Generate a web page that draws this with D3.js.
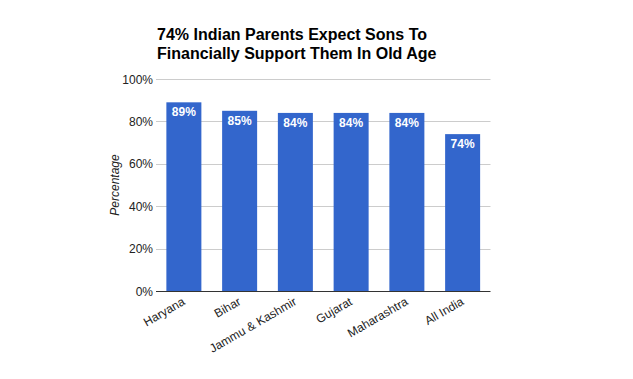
<!DOCTYPE html>
<html><head><meta charset="utf-8">
<script src="https://cdn.jsdelivr.net/npm/d3@7"></script>
<style>body{margin:0;background:#fff}</style>
</head><body>
<svg id="c" width="633" height="379"></svg>
<script>
const categories = ["Haryana","Bihar","Jammu & Kashmir","Gujarat","Maharashtra","All India"];
const values = [89,85,84,84,84,74];
const yTicks = [0,20,40,60,80,100];
const titleLines = ["74% Indian Parents Expect Sons To","Financially Support Them In Old Age"];

(function(){
const svg = d3.select("#c");
const pLeft = 156, pRight = 490.5, pTop = 79, pBottom = 291;
const x = d3.scaleBand().domain(categories).range([pLeft,pRight]).paddingInner(0.372).paddingOuter(0.186);
const y = d3.scaleLinear().domain([0,100]).range([pBottom,pTop]);
const font = "Liberation Sans, Arial, sans-serif";

svg.append("g").selectAll("line").data(yTicks.filter(d=>d>0)).join("line")
  .attr("x1",pLeft).attr("x2",pRight).attr("y1",d=>Math.round(y(d))+0.5).attr("y2",d=>Math.round(y(d))+0.5)
  .attr("stroke","#cccccc").attr("stroke-width",1);

svg.append("g").selectAll("text").data(yTicks).join("text")
  .attr("x",pLeft-3).attr("y",d=>y(d)+4.5).attr("text-anchor","end")
  .attr("font-family",font).attr("font-size",12).attr("fill","#222")
  .text(d=>d+"%");

svg.append("g").selectAll("rect").data(values).join("rect")
  .attr("x",(d,i)=>x(categories[i])).attr("width",x.bandwidth())
  .attr("y",d=>y(d)).attr("height",d=>pBottom-y(d)).attr("fill","#3366cc");

svg.append("g").selectAll("text").data(values).join("text")
  .attr("x",(d,i)=>x(categories[i])+x.bandwidth()/2).attr("y",d=>y(d)+14)
  .attr("text-anchor","middle").attr("font-family",font).attr("font-size",12)
  .attr("font-weight","bold").attr("fill","#fff").text(d=>d+"%");

svg.append("line").attr("x1",pLeft).attr("x2",pRight).attr("y1",pBottom+0.5).attr("y2",pBottom+0.5)
  .attr("stroke","#333").attr("stroke-width",1);

svg.append("g").selectAll("text").data(categories).join("text")
  .attr("transform",d=>`translate(${x(d)+x.bandwidth()/2+2},${pBottom+13}) rotate(-30)`)
  .attr("text-anchor","end").attr("font-family",font).attr("font-size",12).attr("fill","#222")
  .text(d=>d);

svg.append("text").attr("transform",`translate(119,${(pTop+pBottom)/2}) rotate(-90)`)
  .attr("text-anchor","middle").attr("font-family",font).attr("font-size",12)
  .attr("font-style","italic").attr("fill","#222").text("Percentage");

svg.append("g").selectAll("text").data(titleLines).join("text")
  .attr("x",157).attr("y",(d,i)=>40+i*18.5)
  .attr("font-family",font).attr("font-size",16).attr("font-weight","bold").attr("fill","#000")
  .text(d=>d);
})();
</script>
</body></html>
